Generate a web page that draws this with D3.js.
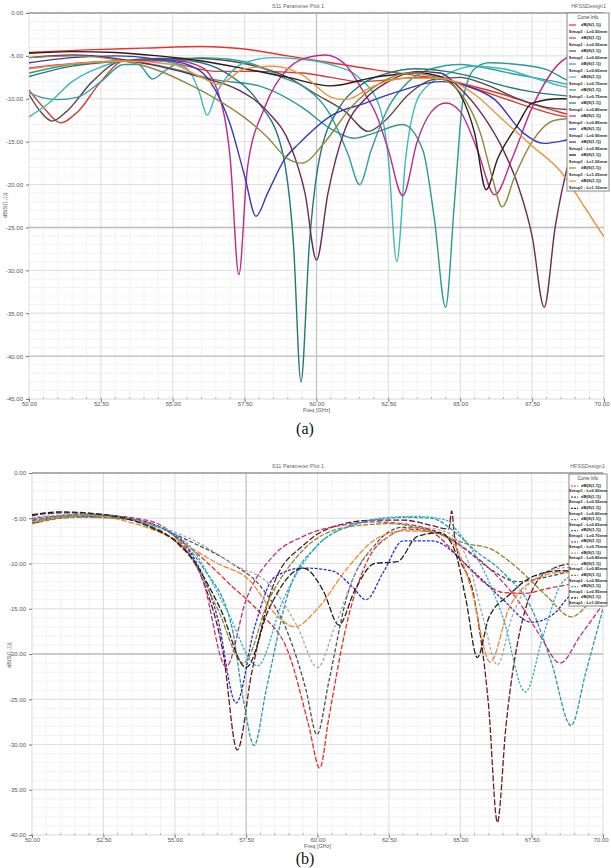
<!DOCTYPE html>
<html>
<head>
<meta charset="utf-8">
<script src="https://cdn.jsdelivr.net/npm/d3@7"></script>
<style>
  body { margin: 0; background: #fff; }
  svg { display: block; font-family: "Liberation Sans", Arial, sans-serif; }
</style>
</head>
<body>
<svg id="chart" width="611" height="868"></svg>
<script>
// frequency axis shared by both plots (GHz)
var freqTicks = [50, 52.5, 55, 57.5, 60, 62.5, 65, 67.5, 70];
var dbTicksA = [0, -5, -10, -15, -20, -25, -30, -35, -40, -45];
var dbTicksB = [0, -5, -10, -15, -20, -25, -30, -35, -40];

// (a) dB(S(1,1)) sweeps, [freq GHz, dB]
var a_redTop = [[50,-4.6],[52,-4.3],[54,-4.1],[56,-3.9],[57.5,-4.2],[59,-5.0],[60.5,-5.8],[62,-6.6],[63.5,-7.3],[64.5,-7.8],[65.5,-8.6],[66.5,-9.5],[67.5,-10.6],[68.5,-11.6],[70,-13]];
var a_redLow = [[50,-9.0],[50.5,-11],[51.1,-12.8],[51.7,-11.5],[52.5,-8],[53.3,-5.6],[54.5,-5.5],[55.5,-6.2],[56.5,-6.8],[58,-6.8],[59.5,-7.0],[60.5,-7.5],[61.5,-8.0],[62.5,-7.8],[63.5,-7.5],[64.3,-7.6],[65.5,-8.8],[67,-10.5],[68.5,-12.0],[70,-12.5]];
var a_darkGray = [[50,-9.5],[50.4,-11.5],[50.8,-12.6],[51.3,-11.5],[52.2,-8],[53.2,-5.6],[54.5,-5.3],[56,-5.3],[57,-5.6],[58,-6.3],[59,-7.5],[60,-9.5],[61,-11.5],[61.8,-13.8],[62.4,-12.5],[63.2,-9.5],[64,-7.8],[65,-7.5],[66,-8.5],[67,-10],[68,-11],[69,-11.3],[70,-11.5]];
var a_teal = [[50,-9.3],[50.5,-9.9],[51,-10.1],[51.7,-9.8],[52.5,-8.0],[53.3,-6.0],[53.8,-6.0],[54.3,-7.7],[54.7,-6.8],[55.3,-5.6],[56,-5.2],[57,-5.4],[58,-6.2],[58.8,-7.5],[59.5,-8.5],[60.5,-12],[61.1,-16.5],[61.5,-20],[61.9,-16],[62.5,-11],[63.2,-8],[64,-6.5],[65,-6.0],[66,-6.5],[67,-7.2],[68,-7.8],[69,-8.5],[70,-9]];
var a_cyan = [[50,-12.1],[50.7,-10.5],[51.5,-8],[52.5,-6.3],[53.3,-5.6],[54.5,-5.6],[55.5,-6.5],[55.9,-9],[56.2,-11.9],[56.5,-9.5],[57,-7],[57.5,-5.8],[58.5,-5.2],[59.5,-5.4],[60.5,-6],[61.5,-7.6],[62.2,-11],[62.5,-17],[62.79,-29.0],[63.1,-17],[63.6,-9.5],[64.5,-7.2],[65.5,-6.2],[66.5,-6.5],[67.5,-7.5],[68.5,-8.5],[70,-9.5]];
var a_teal2 = [[50,-7.0],[51.5,-6.0],[53.3,-5.6],[55,-6.5],[56.5,-7.8],[58,-8.5],[59.5,-11],[60.5,-13.5],[61.3,-14.6],[62,-14],[63,-13],[63.7,-16],[64.1,-24],[64.49,-34.3],[64.8,-22],[65.1,-10],[65.5,-6.5],[66,-5.8],[67,-6.0],[68,-6.6],[68.7,-7.8],[70,-9]];
var a_darkTeal = [[50,-7.4],[51.5,-6.2],[53.3,-5.6],[55,-5.4],[56,-5.8],[57,-7.3],[58,-10.5],[58.8,-16],[59.2,-27],[59.46,-43],[59.75,-27],[60.1,-17],[60.8,-11],[61.5,-8.5],[62.5,-7],[63.5,-6.5],[64.5,-6.8],[65.5,-7.5],[66.5,-8.5],[67.5,-9.2],[68.5,-9.6],[70,-10]];
var a_magenta = [[50,-6.4],[51.5,-5.9],[53.3,-5.6],[55,-5.5],[56,-6.3],[56.6,-9.5],[57,-17],[57.3,-30.5],[57.6,-18],[58.2,-11],[59,-6.5],[59.8,-5.1],[60.3,-4.9],[61,-6],[61.6,-9],[62.1,-12],[62.5,-16],[63.0,-21.3],[63.5,-15],[64.0,-11.5],[64.5,-10.5],[65,-11.5],[65.6,-16],[66.2,-21.2],[66.8,-17],[67.5,-11],[68.5,-5.7],[69.5,-4.2],[70,-4.0]];
var a_blue = [[50,-5.8],[51.5,-5.2],[53,-5.0],[54.5,-5.4],[55.5,-6],[56.3,-8],[57,-13],[57.5,-19],[57.9,-23.7],[58.3,-21],[58.9,-17],[59.4,-15.2],[60.5,-12],[61.7,-10.5],[62.8,-9.2],[64.3,-8],[65.3,-8.6],[66.2,-10.1],[67.2,-14],[67.9,-15.2],[68.7,-14.8],[70,-13.5]];
var a_purple = [[50,-5.2],[51.5,-4.9],[53,-5.3],[54.5,-6.2],[56,-7.5],[57.3,-9],[58.3,-11.5],[59.1,-15.5],[59.6,-21],[60.0,-28.8],[60.4,-21],[61,-13.5],[61.7,-10],[62.5,-8],[63.5,-6.8],[64.3,-7],[65,-8.8],[65.8,-12],[66.5,-16],[67.0,-20],[67.5,-26],[67.92,-34.3],[68.3,-25],[68.8,-17],[69.4,-12],[70,-10]];
var a_black = [[50,-4.7],[51.5,-4.5],[53,-4.6],[54.5,-5.0],[56,-5.6],[57.5,-6.5],[59,-7.5],[60.5,-8.5],[62,-7.5],[63.5,-7.0],[64.3,-7.4],[65,-9.5],[65.5,-14],[65.9,-20.6],[66.3,-17],[67,-13],[67.5,-10.5],[68.5,-10],[70,-10.5]];
var a_olive = [[50,-5.2],[51.5,-5.0],[53.3,-5.6],[54.5,-6.7],[55.5,-8.2],[56.5,-10],[57.5,-12.2],[58.3,-14.5],[59.0,-17],[59.5,-17.5],[60.3,-15],[61.2,-11],[62.2,-8.2],[63.2,-7],[64.2,-7.5],[65,-9.3],[65.7,-14],[66.1,-19],[66.46,-22.6],[66.9,-19],[67.5,-15],[68.3,-12.5],[70,-12]];
var a_orange = [[50,-6.5],[52,-5.8],[53.3,-5.6],[55,-6.0],[56,-7.5],[56.6,-8.3],[57.5,-6.5],[58.5,-6.2],[59.5,-7.2],[60.5,-9.8],[61,-10.1],[62,-8.5],[63,-7.6],[64.3,-7.6],[65.5,-9.5],[66.5,-12.5],[67.5,-15.5],[68.5,-18.5],[69.3,-22.5],[70,-26.1]];

var curvesA = [a_redTop, a_redLow, a_darkGray, a_teal, a_cyan, a_teal2, a_darkTeal, a_magenta, a_blue, a_purple, a_black, a_olive, a_orange];
var colorsA = ['#e8322e', '#d0403a', '#5a4848', '#2fa0a0', '#3cb8c0', '#2a9a92', '#1f7a78', '#c02a8a', '#3a3ab8', '#6a2a5a', '#2a1a1a', '#8a8a40', '#e8963a'];

// (b) dB(S(1,1)) sweeps, [freq GHz, dB]
var b_red = [[50,-5.5],[51.5,-4.6],[53,-4.8],[54.5,-6],[56,-9.5],[57,-12.5],[58,-15.5],[59,-20],[59.7,-28],[60.08,-32.6],[60.4,-27],[61,-17],[61.7,-10],[62.5,-7],[63.2,-6.2],[64,-6.6],[65,-9.5],[65.8,-12],[66.5,-13.2],[67.3,-13.3],[68,-12.8],[69,-12.2],[70,-11.5]];
var b_gray = [[50,-5],[52,-4.6],[54,-5.5],[55.5,-7.5],[57,-10],[58,-12.5],[59,-18],[59.6,-24],[59.98,-28.9],[60.4,-23],[61,-14],[62,-8],[63,-6],[64,-6.3],[65,-8],[66,-10.5],[67,-12],[68,-11.5],[69,-10.8],[70,-10.5]];
var b_brown = [[50,-4.7],[51,-4.4],[52.5,-4.6],[54,-5.7],[55,-7.5],[56,-12],[56.7,-20],[57.19,-30.6],[57.7,-22],[58.5,-12],[59.5,-8],[60.5,-6],[62,-5.2],[63,-5.2],[64,-5.8],[64.6,-6.2],[64.7,-4.2],[64.8,-7],[65.5,-14],[66.0,-26],[66.3,-38.6],[66.6,-28],[67.2,-16],[68,-11],[69,-10],[70,-10]];
var b_teal = [[50,-5.3],[52,-4.8],[54,-5.5],[55,-7],[56,-10.5],[57,-17],[57.4,-25],[57.78,-30.1],[58.2,-24],[59,-13],[60,-8],[61,-6],[62,-5.2],[63,-4.9],[64,-5],[64.8,-6.5],[65.5,-8.5],[66.5,-11],[67.5,-15],[68.2,-21],[68.88,-27.9],[69.4,-22],[70,-15]];
var b_blue = [[50,-5.6],[51.5,-4.8],[53,-5],[54.5,-6],[55.5,-8.5],[56.5,-16],[57.15,-25.4],[57.8,-17],[58.5,-11.5],[59.5,-10.5],[60.5,-10.8],[61.2,-12.5],[61.7,-14],[62.3,-11],[63,-7.5],[64,-7.5],[65.5,-11],[66.5,-14],[67.5,-16.5],[68.3,-15.5],[68.8,-13.7],[70,-12]];
var b_magenta = [[50,-5.2],[52,-4.6],[54,-5.2],[55,-7],[56,-12],[56.8,-21.4],[57.5,-14],[58.5,-9],[59.5,-7],[61,-5.7],[62,-5.4],[63,-5.6],[64,-6.3],[65,-8],[66,-10.5],[67,-14],[67.8,-18],[68.5,-21],[69.2,-18],[70,-14.5]];
var b_orange = [[50,-5.4],[52,-4.7],[53.5,-5.5],[55,-7.3],[56.5,-10],[57.6,-11.8],[58.5,-15.5],[59.2,-17],[60,-15],[61,-10.7],[62,-7.4],[63,-6.4],[64,-6.5],[64.8,-8],[65.4,-13],[66.05,-20.9],[66.7,-15],[67.5,-12],[68.5,-11],[69.3,-11],[70,-11.3]];
var b_lightGray = [[50,-4.9],[52,-4.5],[54,-5.5],[56,-8],[57,-10],[58.4,-12.6],[59.3,-17],[60,-21.5],[60.6,-17],[61.5,-10],[62.5,-7],[63.5,-6],[64.5,-6.5],[65.3,-10],[65.8,-16],[66.3,-21.2],[66.8,-16],[67.5,-12],[68.5,-10.5],[70,-10.3]];
var b_olive = [[50,-5.6],[51.5,-4.9],[53,-5],[54.5,-6.5],[55.5,-9],[56.5,-15],[57.4,-21],[58.3,-14],[59.5,-8.5],[61,-6],[62.5,-5.6],[63.5,-6],[64.5,-7],[65.2,-7.8],[66,-8.3],[67,-10.5],[68,-13.5],[68.9,-15.9],[69.6,-14],[70,-12.5]];
var b_cyan = [[50,-5.1],[52,-4.6],[54,-5.6],[55.5,-8],[56.8,-15],[57.9,-21.3],[58.8,-14],[60,-8],[61.5,-5.5],[62.5,-4.9],[63.5,-4.8],[64.5,-5.2],[65,-6.8],[65.7,-10],[66.5,-16],[67.28,-24.2],[67.9,-18],[68.6,-12],[69.3,-11],[70,-11.5]];
var b_black = [[50,-4.6],[51,-4.3],[52.5,-4.6],[54,-5.8],[55.5,-9],[56.6,-15],[57.5,-21.5],[58.3,-15],[59.5,-10.5],[60.2,-13],[60.75,-16.8],[61.3,-13],[62,-10],[62.8,-9.8],[63.5,-7],[64.3,-6.6],[64.8,-8.5],[65.2,-14],[65.6,-20.4],[66,-16],[66.7,-13.5],[67.5,-11.5],[68.5,-10.8],[70,-11]];

var curvesB = [b_red, b_gray, b_brown, b_teal, b_blue, b_magenta, b_orange, b_lightGray, b_olive, b_cyan, b_black];
var colorsB = ['#e82a2a', '#505050', '#6a1a20', '#2a9aa8', '#2a2ad0', '#c0307a', '#f08a2a', '#a8a8a8', '#8a8a30', '#30b0c0', '#222222'];
var dashesB = ['5,2', '4,2', '6,2', '4,1.5', '3,1.5', '5,2', '6,1.5', '3,2', '5,1.5', '2.5,1.5', '6,2'];

var svg = d3.select('#chart');

function fmt(d) { return d.toFixed(2); }

function drawPanel(p) {
  var x = d3.scaleLinear().domain([50, 70]).range([p.left, p.right]);
  var y = d3.scaleLinear().domain([p.yMin, 0]).range([p.bottom, p.top]);
  var g = svg.append('g');

  // grid: minor then major
  g.selectAll('line.vmin').data(d3.range(50, 70.001, 0.5)).join('line')
    .attr('x1', d => x(d)).attr('x2', d => x(d))
    .attr('y1', p.top).attr('y2', p.bottom)
    .attr('stroke', '#f0f0f0').attr('stroke-width', 0.8);
  g.selectAll('line.hmin').data(d3.range(p.yMin, 0.001, 1)).join('line')
    .attr('x1', p.left).attr('x2', p.right)
    .attr('y1', d => y(d)).attr('y2', d => y(d))
    .attr('stroke', '#eeeeee').attr('stroke-width', 0.8);
  g.selectAll('line.vmaj').data(freqTicks).join('line')
    .attr('x1', d => x(d)).attr('x2', d => x(d))
    .attr('y1', p.top).attr('y2', p.bottom)
    .attr('stroke', d => p.darkCols.indexOf(d) >= 0 ? '#c4c4c4' : '#dedede')
    .attr('stroke-width', d => p.darkCols.indexOf(d) >= 0 ? 1.3 : 0.9);
  g.selectAll('line.hmaj').data(p.yTicks).join('line')
    .attr('x1', p.left).attr('x2', p.right)
    .attr('y1', d => y(d)).attr('y2', d => y(d))
    .attr('stroke', d => p.darkRows.indexOf(d) >= 0 ? '#bcbcbc' : '#dcdcdc')
    .attr('stroke-width', d => p.darkRows.indexOf(d) >= 0 ? 1.4 : 0.9);

  // top frame line
  g.append('line')
    .attr('x1', p.left).attr('x2', p.right)
    .attr('y1', p.top).attr('y2', p.top)
    .attr('stroke', '#9a9a9a').attr('stroke-width', 1.6);

  // axes
  var yAxis = g.append('g').attr('transform', 'translate(' + p.left + ',0)')
    .call(d3.axisLeft(y).tickValues(p.yTicks).tickSize(3).tickFormat(fmt));
  var xAxis = g.append('g').attr('transform', 'translate(0,' + p.bottom + ')')
    .call(d3.axisBottom(x).tickValues(freqTicks).tickSize(3).tickFormat(fmt));
  [yAxis, xAxis].forEach(function (a) {
    a.select('.domain').remove();
    a.selectAll('line').attr('stroke', '#777');
    a.selectAll('text').attr('fill', '#555').style('font-size', '6px');
  });
  xAxis.selectAll('text').attr('dy', '0.2em');
  // last frequency label sits flush with the right edge
  xAxis.selectAll('.tick').filter(d => d === 70).select('text')
    .attr('text-anchor', 'end').attr('dx', '5px');

  // minor ticks along the bottom
  g.selectAll('line.xminor').data(d3.range(50, 70.001, 0.5)).join('line')
    .attr('x1', d => x(d)).attr('x2', d => x(d))
    .attr('y1', p.bottom - 2).attr('y2', p.bottom)
    .attr('stroke', '#999').attr('stroke-width', 0.7);

  g.append('text')
    .attr('x', x(60)).attr('y', p.bottom + 13)
    .attr('text-anchor', 'middle').attr('fill', '#555')
    .style('font-size', '5.5px').text('Freq [GHz]');
  g.append('text')
    .attr('transform', 'translate(' + p.yLabelX + ',' + p.yLabelY + ') rotate(-90)')
    .attr('text-anchor', 'middle').attr('fill', '#555')
    .style('font-size', '5.5px').text('dB(S(1,1))');

  // title and design name
  g.append('text')
    .attr('x', p.titleX).attr('y', p.top - 5)
    .attr('fill', '#666').style('font-size', '5.5px')
    .text('S11 Parameter Plot 1');
  g.append('text')
    .attr('x', p.right + 2).attr('y', p.top - 5)
    .attr('text-anchor', 'end')
    .attr('fill', '#666').style('font-size', '5.5px')
    .text('HFSSDesign1');

  // curves
  var clipId = 'clip' + p.id;
  svg.append('clipPath').attr('id', clipId).append('rect')
    .attr('x', p.left).attr('y', p.top)
    .attr('width', p.right - p.left).attr('height', p.bottom - p.top);

  var line = d3.line()
    .x(d => x(d[0])).y(d => y(d[1]))
    .curve(d3.curveMonotoneX);

  g.append('g').attr('clip-path', 'url(#' + clipId + ')')
    .selectAll('path').data(p.curves).join('path')
    .attr('d', line)
    .attr('fill', 'none')
    .attr('stroke', (d, i) => p.colors[i])
    .attr('stroke-width', p.lineWidth)
    .attr('stroke-dasharray', (d, i) => p.dashes ? p.dashes[i] : null);

  // curve info legend
  var lg = g.append('g').attr('transform', 'translate(' + p.legend.x + ',' + p.legend.y + ')');
  var rowH = (p.legend.h - 9) / p.curves.length;
  lg.append('rect')
    .attr('width', p.legend.w).attr('height', p.legend.h)
    .attr('fill', '#fff').attr('stroke', '#888').attr('stroke-width', 1);
  lg.append('text')
    .attr('x', p.legend.w / 2).attr('y', 6)
    .attr('text-anchor', 'middle').attr('fill', '#333')
    .style('font-size', '4.5px').text('Curve Info');
  var rows = lg.selectAll('g.row').data(p.curves).join('g')
    .attr('transform', (d, i) => 'translate(0,' + (9 + i * rowH) + ')');
  rows.append('line')
    .attr('x1', 2).attr('x2', 9).attr('y1', 3).attr('y2', 3)
    .attr('stroke', (d, i) => p.colors[i]).attr('stroke-width', 1.2)
    .attr('stroke-dasharray', (d, i) => p.dashes ? '2,1' : null);
  rows.append('text')
    .attr('x', p.legend.w / 2 + 3).attr('y', 3.5)
    .attr('text-anchor', 'middle').attr('fill', '#222')
    .style('font-size', '4.2px').style('font-weight', 'bold')
    .text('dB(S(1,1))');
  rows.append('text')
    .attr('x', p.legend.w / 2).attr('y', rowH - 2)
    .attr('text-anchor', 'middle').attr('fill', '#222')
    .style('font-size', '4.2px').style('font-weight', 'bold')
    .text((d, i) => 'Setup1 : L=' + (0.5 + i * 0.05).toFixed(2) + 'mm');
}

drawPanel({
  id: 'a', left: 29, right: 604, top: 13, bottom: 399, yMin: -45,
  yTicks: dbTicksA, darkRows: [-25, -40], darkCols: [60],
  curves: curvesA, colors: colorsA, dashes: null, lineWidth: 1.4,
  legend: { x: 567, y: 13, w: 42, h: 178 },
  titleX: 272, yLabelX: 7, yLabelY: 205
});

drawPanel({
  id: 'b', left: 32, right: 603, top: 473, bottom: 835, yMin: -40,
  yTicks: dbTicksB, darkRows: [-20], darkCols: [57.5],
  curves: curvesB, colors: colorsB, dashes: dashesB, lineWidth: 1.3,
  legend: { x: 569, y: 474, w: 38, h: 132 },
  titleX: 272, yLabelX: 11, yLabelY: 655
});

// sub-figure captions
svg.append('text').attr('x', 305).attr('y', 434)
  .attr('text-anchor', 'middle').attr('fill', '#111')
  .style('font-family', '"Liberation Serif", "DejaVu Serif", serif')
  .style('font-size', '16px').text('(a)');
svg.append('text').attr('x', 305).attr('y', 864)
  .attr('text-anchor', 'middle').attr('fill', '#111')
  .style('font-family', '"Liberation Serif", "DejaVu Serif", serif')
  .style('font-size', '16px').text('(b)');
</script>
</body>
</html>
